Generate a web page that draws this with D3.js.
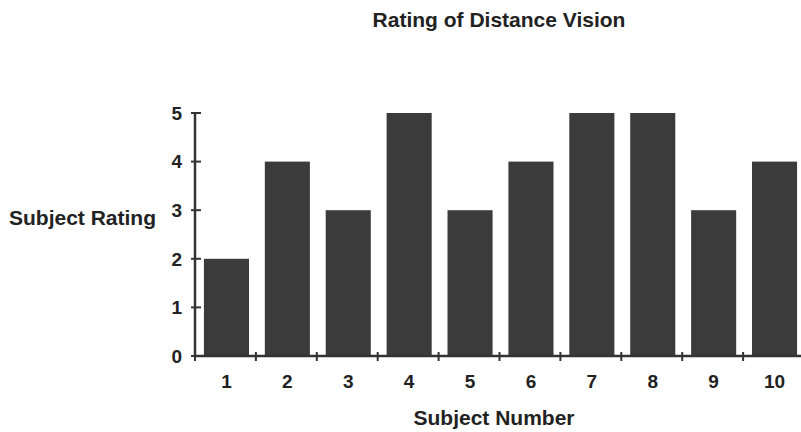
<!DOCTYPE html>
<html>
<head>
<meta charset="utf-8">
<script src="https://cdn.jsdelivr.net/npm/d3@7"></script>
<style>
  body { margin: 0; background: #fff; }
  svg { display: block; font-family: "Liberation Sans", Arial, sans-serif; }
</style>
</head>
<body>
<div id="chart"></div>
<script>
const subjects = ["1", "2", "3", "4", "5", "6", "7", "8", "9", "10"];
const ratings = [2, 4, 3, 5, 3, 4, 5, 5, 3, 4];
const yTicks = [0, 1, 2, 3, 4, 5];

const width = 801, height = 432;
const x0 = 195, x1 = 804, yBottom = 356, yTop = 113;
const ink = "#333";

const svg = d3.select("#chart").append("svg")
  .attr("width", width).attr("height", height);

const x = d3.scaleBand()
  .domain(subjects)
  .range([x0, x1])
  .paddingInner(0.26)
  .paddingOuter(0.13);

const y = d3.scaleLinear().domain([0, 5]).range([yBottom, yTop]);

// bars
svg.append("g").selectAll("rect")
  .data(subjects.map((s, i) => ({s, v: ratings[i]})))
  .join("rect")
    .attr("x", d => x(d.s) + 1)
    .attr("y", d => y(d.v))
    .attr("width", x.bandwidth())
    .attr("height", d => y(0) - y(d.v))
    .attr("fill", "#3b3b3b");

// y axis
const gy = svg.append("g");
gy.append("line")
  .attr("x1", x0).attr("x2", x0)
  .attr("y1", y(0)).attr("y2", y(5))
  .attr("stroke", ink).attr("stroke-width", 2.5);
gy.selectAll("line.tick").data(yTicks).join("line")
  .attr("class", "tick")
  .attr("x1", x0 - 4).attr("x2", x0 + 6)
  .attr("y1", d => y(d)).attr("y2", d => y(d))
  .attr("stroke", ink).attr("stroke-width", 2);
gy.selectAll("text").data(yTicks).join("text")
  .attr("x", x0 - 13).attr("y", d => y(d))
  .attr("dy", "0.36em")
  .attr("text-anchor", "end")
  .style("font-size", "19px").style("font-weight", "bold")
  .attr("fill", "#222")
  .text(d => d);

// x axis
const step = x.step();
const boundaries = d3.range(subjects.length).map(i => x0 + i * step);
const gx = svg.append("g");
gx.append("line")
  .attr("x1", x0).attr("x2", x1)
  .attr("y1", yBottom).attr("y2", yBottom)
  .attr("stroke", ink).attr("stroke-width", 2.5);
gx.selectAll("line.tick").data(boundaries).join("line")
  .attr("class", "tick")
  .attr("x1", d => d).attr("x2", d => d)
  .attr("y1", yBottom - 4).attr("y2", yBottom + 5)
  .attr("stroke", ink).attr("stroke-width", 2);
gx.selectAll("text").data(subjects).join("text")
  .attr("x", d => x(d) + x.bandwidth() / 2 + 1)
  .attr("y", 388)
  .attr("text-anchor", "middle")
  .style("font-size", "19px").style("font-weight", "bold")
  .attr("fill", "#222")
  .text(d => d);

// titles
svg.append("text")
  .attr("x", 499).attr("y", 27)
  .attr("text-anchor", "middle")
  .style("font-size", "21px").style("font-weight", "bold")
  .attr("fill", "#222")
  .text("Rating of Distance Vision");

svg.append("text")
  .attr("x", 9).attr("y", 225)
  .style("font-size", "21px").style("font-weight", "bold")
  .attr("fill", "#222")
  .text("Subject Rating");

svg.append("text")
  .attr("x", 494).attr("y", 425)
  .attr("text-anchor", "middle")
  .style("font-size", "21px").style("font-weight", "bold")
  .attr("fill", "#222")
  .text("Subject Number");
</script>
</body>
</html>
